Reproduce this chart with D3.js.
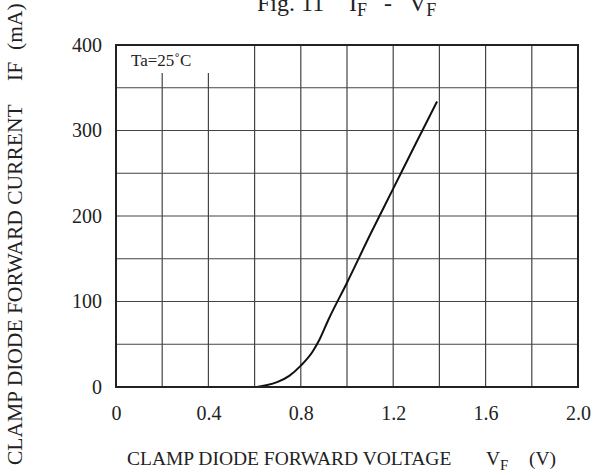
<!DOCTYPE html>
<html>
<head>
<meta charset="utf-8">
<script src="https://cdn.jsdelivr.net/npm/d3@7"></script>
<style>
  html, body { margin: 0; padding: 0; background: #fff; }
  svg { display: block; }
  text { font-family: "Liberation Serif", "Times New Roman", serif; fill: #222; white-space: pre; }
</style>
</head>
<body>
<svg id="chart" width="593" height="475"></svg>
<script>
// Data
const voltage = [0.61, 0.65, 0.70, 0.75, 0.80, 0.85, 0.88, 0.92, 1.00, 1.10, 1.20, 1.30, 1.39];
const current = [0, 2, 6, 13, 25, 41, 55, 79, 122, 178, 232, 286, 334];
const xTicks = [0, 0.4, 0.8, 1.2, 1.6, 2.0];
const xTickLabels = ["0", "0.4", "0.8", "1.2", "1.6", "2.0"];
const yTicks = [0, 100, 200, 300, 400];
const xGrid = [0.2, 0.4, 0.6, 0.8, 1.0, 1.2, 1.4, 1.6, 1.8];
const yGrid = [50, 100, 150, 200, 250, 300, 350];

const svg = d3.select("#chart");
const m = { left: 116, right: 578, top: 45, bottom: 387 };
const x = d3.scaleLinear().domain([0, 2.0]).range([m.left, m.right]);
const y = d3.scaleLinear().domain([0, 400]).range([m.bottom, m.top]);

// Grid
const g = svg.append("g");
g.selectAll("line.vg").data(xGrid).enter().append("line")
  .attr("x1", d => x(d)).attr("x2", d => x(d))
  .attr("y1", y(0)).attr("y2", y(400))
  .attr("stroke", "#444").attr("stroke-width", 1.2);
g.selectAll("line.hg").data(yGrid).enter().append("line")
  .attr("x1", x(0)).attr("x2", x(2.0))
  .attr("y1", d => y(d)).attr("y2", d => y(d))
  .attr("stroke", "#444").attr("stroke-width", 1.2);

// Label box background (covers grid)
svg.append("rect")
  .attr("x", x(0)).attr("y", y(400))
  .attr("width", x(0.5) - x(0) + 2).attr("height", 28)
  .attr("fill", "#fff");
svg.append("text")
  .attr("x", x(0) + 15).attr("y", y(400) + 21)
  .attr("font-size", 17)
  .text("Ta=25\u02DAC");

// Curve
const pts = voltage.map((v, i) => [v, current[i]]);
svg.append("path")
  .datum(pts)
  .attr("d", d3.line().x(d => x(d[0])).y(d => y(d[1])).curve(d3.curveMonotoneX))
  .attr("fill", "none").attr("stroke", "#111").attr("stroke-width", 2);

// Border
svg.append("rect")
  .attr("x", x(0)).attr("y", y(400))
  .attr("width", x(2.0) - x(0)).attr("height", y(0) - y(400))
  .attr("fill", "none").attr("stroke", "#222").attr("stroke-width", 2);

// Axes tick labels
const xAxis = d3.axisBottom(x).tickValues(xTicks).tickSize(0).tickPadding(19)
  .tickFormat((d, i) => xTickLabels[i]);
const xa = svg.append("g").attr("transform", `translate(0,${y(0)})`).call(xAxis);
xa.select(".domain").remove();
xa.selectAll("text").attr("font-size", 20).attr("fill", "#222")
  .attr("font-family", "Liberation Serif, serif");

const yAxis = d3.axisLeft(y).tickValues(yTicks).tickSize(0).tickPadding(14);
const ya = svg.append("g").attr("transform", `translate(${x(0)},0)`).call(yAxis);
ya.select(".domain").remove();
ya.selectAll("text").attr("font-size", 20).attr("fill", "#222")
  .attr("font-family", "Liberation Serif, serif");

// Title
const t = svg.append("text").attr("y", 11).attr("font-size", 24);
t.append("tspan").attr("x", 257).text("Fig. 11");
t.append("tspan").attr("x", 349).text("I");
t.append("tspan").attr("font-size", 18).attr("dy", 5).text("F");
t.append("tspan").attr("x", 384).attr("dy", -5).text("-");
t.append("tspan").attr("x", 409).text("V");
t.append("tspan").attr("font-size", 18).attr("dy", 5).text("F");

// X label
const xl = svg.append("text").attr("y", 465).attr("font-size", 19.5);
xl.append("tspan").attr("x", 127).text("CLAMP DIODE FORWARD VOLTAGE");
xl.append("tspan").attr("x", 486).text("V");
xl.append("tspan").attr("font-size", 15).attr("dy", 5).text("F");
xl.append("tspan").attr("x", 529).attr("dy", -5).text("(V)");

// Y label
const yl = svg.append("text")
  .attr("transform", "translate(22,0) rotate(-90)")
  .attr("font-size", 21.5);
yl.append("tspan").attr("x", -465).text("CLAMP DIODE FORWARD CURRENT");
yl.append("tspan").attr("x", -81).text("IF");
yl.append("tspan").attr("x", -50).text("(mA)");
</script>
</body>
</html>
